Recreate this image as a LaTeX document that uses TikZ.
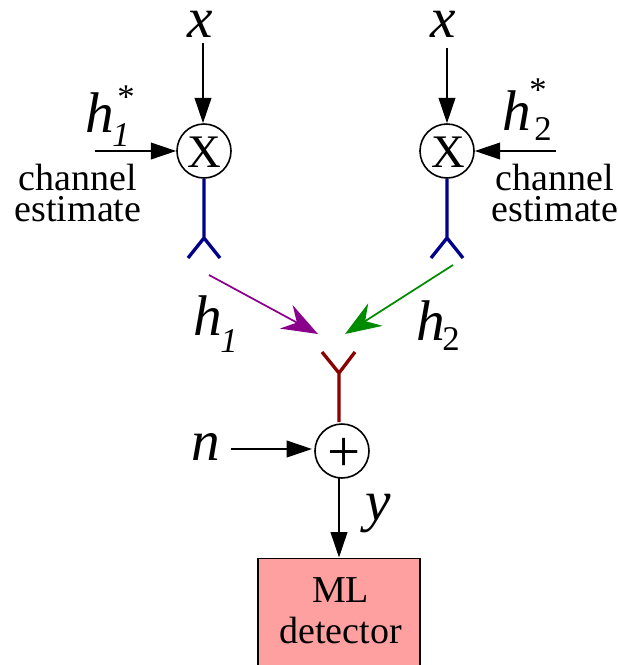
\documentclass[tikz,border=0pt]{standalone}
\usepackage{fontspec}
\setmainfont{Liberation Serif}
\usetikzlibrary{arrows.meta}
\definecolor{antblue}{RGB}{0,0,139}
\definecolor{antred}{RGB}{139,0,0}
\definecolor{chpurple}{RGB}{139,0,139}
\definecolor{chgreen}{RGB}{0,139,0}
\definecolor{boxpink}{RGB}{255,160,160}
\newcommand{\mathtxt}[1]{\fontsize{43}{43}\selectfont\itshape #1}
\newcommand{\subtxt}[1]{\fontsize{26}{26}\selectfont #1}
\tikzset{
  x=0.75pt,y=-0.75pt,
  sig/.style={draw=black,line width=1.3pt,-{Triangle[length=19pt,width=12.5pt]}},
  chan/.style={line width=1.3pt,-{Stealth[length=27pt,width=20pt,inset=9pt]}},
  ant/.style={line width=2.5pt,line join=miter},
  mix/.style={circle,draw=black,line width=1.2pt,fill=white,minimum size=40.5pt,inner sep=0pt},
  sym/.style={inner sep=0pt,anchor=base},
  small/.style={inner sep=0pt,align=center,font=\fontsize{28.5}{29}\selectfont,anchor=base},
  detbox/.style={draw=black,line width=1.3pt,fill=boxpink,minimum width=122pt,minimum height=100pt,anchor=north,inner sep=0pt}
}
\begin{document}
\begin{tikzpicture}
\useasboundingbox (0,0) rectangle (618,665);
% mixers and adder
\node[mix] (m1) at (204,151) {};
\node[sym,font=\fontsize{35}{35}\selectfont] (m1t) at (204,167) {X};
\node[mix] (m2) at (447,151) {};
\node[sym,font=\fontsize{35}{35}\selectfont] (m2t) at (448,167) {X};
\node[mix] (add) at (342,451) {};
\node[sym,font=\fontsize{44}{44}\selectfont] (addt) at (344,471) {+};
% detector
\node[detbox] (det) at (339,557.5) {};
\node[small] (det1) at (340.5,602) {ML};
\node[small] (det2) at (340.5,643) {detector};
% inputs
\node[sym] (x1) at (200,37) {\mathtxt{x}};
\node[sym] (x2) at (443,37) {\mathtxt{x}};
\node[sym] (n) at (206,460) {\mathtxt{n}};
\node[sym] (y) at (378,520) {\mathtxt{y}};
% labels
\node[sym] (h1s) at (100,132) {\mathtxt{h}};
\node[sym] (h1ss) at (121,146) {\subtxt{\itshape 1}};
\node[sym] (h1st) at (126,108) {\subtxt{*}};
\node[sym] (h2s) at (517,130) {\mathtxt{h}};
\node[sym] (h2ss) at (543,140) {\subtxt{2}};
\node[sym] (h2st) at (538,101) {\subtxt{*}};
\node[sym] (h1) at (208,335) {\mathtxt{h}};
\node[sym] (h1b) at (229,352) {\subtxt{\itshape 1}};
\node[sym] (h2) at (431,340) {\mathtxt{h}};
\node[sym] (h2b) at (451,350) {\subtxt{2}};
\node[small] (ce1a) at (78,190) {channel};
\node[small] (ce1b) at (78,221) {estimate};
\node[small] (ce2a) at (555,190) {channel};
\node[small] (ce2b) at (555,221) {estimate};
% connector ends
\coordinate (x1s) at (203,43);
\coordinate (x2s) at (447,48);
\coordinate (c1s) at (95,151);
\coordinate (c2s) at (556,151);
\coordinate (ns) at (231,449);
\coordinate (ne) at (312,449);
\coordinate (ys) at (339,477);
\coordinate (a1) at (204,238);
\coordinate (a1l) at (188,258);
\coordinate (a1r) at (220,258);
\coordinate (a2) at (447,238);
\coordinate (a2l) at (431,258);
\coordinate (a2r) at (463,258);
\coordinate (r0) at (339,373);
\coordinate (rl) at (322,352);
\coordinate (rr) at (355,352);
\coordinate (rs) at (339,422);
\coordinate (p1) at (209,275);
\coordinate (p2) at (318,334);
\coordinate (g1) at (453,265);
\coordinate (g2) at (345,334);
% signal arrows
\draw[sig] (x1s) -- (x1s |- m1.north);
\draw[sig] (x2s) -- (m2.north);
\draw[sig] (c1s) -- (m1.west);
\draw[sig] (c2s) -- (m2.east);
\draw[sig] (ns) -- (ne);
\draw[sig] (ys) -- (det.north);
% antennas
\draw[ant,draw=antblue] (m1.south) -- (a1) (a1l) -- (a1) -- (a1r);
\draw[ant,draw=antblue] (m2.south) -- (a2) (a2l) -- (a2) -- (a2r);
\draw[ant,draw=antred] (rs) -- (r0) (rl) -- (r0) -- (rr);
% channels
\draw[chan,draw=chpurple,fill=chpurple] (p1) -- (p2);
\draw[chan,draw=chgreen,fill=chgreen] (g1) -- (g2);
\end{tikzpicture}
\end{document}
